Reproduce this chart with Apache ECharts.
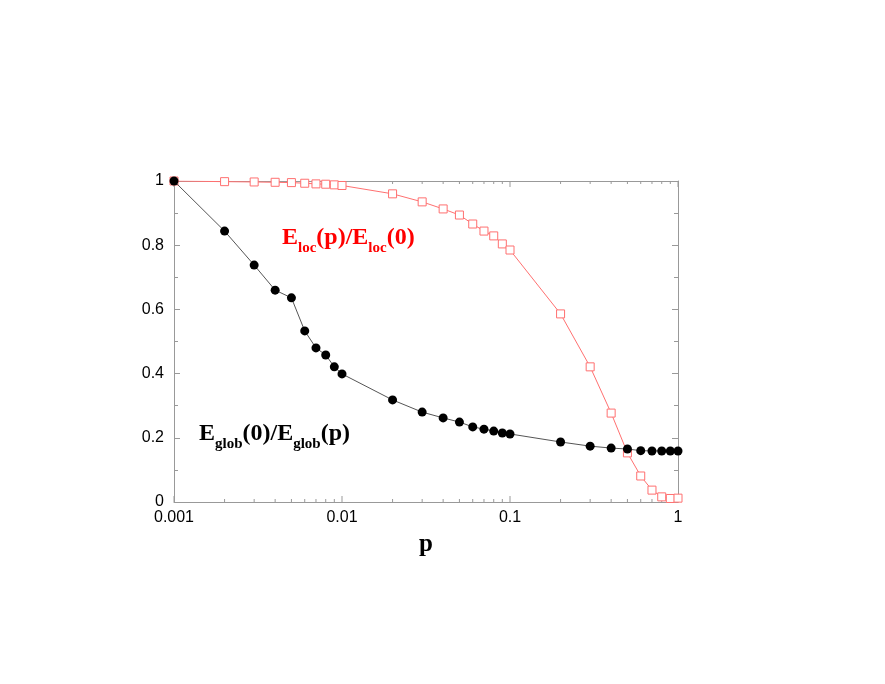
<!DOCTYPE html>
<html><head><meta charset="utf-8">
<script src="https://cdn.jsdelivr.net/npm/echarts@6/dist/echarts.min.js"></script>
<style>html,body{margin:0;padding:0;background:#fff}#c{width:885px;height:684px}</style>
</head><body><div id="c"></div>
<script>
var pValues = [0.001,0.002,0.003,0.004,0.005,0.006,0.007,0.008,0.009,0.01,0.02,0.03,0.04,0.05,0.06,0.07,0.08,0.09,0.1,0.2,0.3,0.4,0.5,0.6,0.7,0.8,0.9,1];
var eGlob = [1.0,0.844,0.738,0.660,0.636,0.533,0.480,0.458,0.421,0.399,0.318,0.280,0.262,0.249,0.234,0.227,0.221,0.215,0.212,0.187,0.174,0.168,0.165,0.160,0.159,0.159,0.159,0.159];
var eLoc = [1.0,0.998,0.997,0.996,0.995,0.993,0.991,0.990,0.988,0.986,0.960,0.935,0.913,0.894,0.866,0.844,0.829,0.804,0.785,0.586,0.421,0.277,0.153,0.081,0.037,0.016,0.011,0.012];
var majorTicksX = [0.001,0.01,0.1,1];
var minorTicksX = [0.002,0.003,0.004,0.005,0.006,0.007,0.008,0.009,0.02,0.03,0.04,0.05,0.06,0.07,0.08,0.09,0.2,0.3,0.4,0.5,0.6,0.7,0.8,0.9];
var xLabels = {0.001:'0.001',0.01:'0.01',0.1:'0.1',1:'1'};

var axisColor = '#999';
var chart = echarts.init(document.getElementById('c'));
function zip(a,b){return a.map(function(v,i){return [v,b[i]];});}
function tickItem(len){
  return function(params, api){
    var x = api.value(0);
    var b = api.coord([x,0]);
    var t = api.coord([x,1]);
    return {type:'group',children:[
      {type:'line',shape:{x1:b[0],y1:b[1],x2:b[0],y2:b[1]-len},style:{stroke:axisColor,lineWidth:1}},
      {type:'line',shape:{x1:t[0],y1:t[1],x2:t[0],y2:t[1]+len},style:{stroke:axisColor,lineWidth:1}}
    ]};
  };
}
var subA = function(c){return {fontFamily:'Liberation Serif',fontWeight:'bold',fontSize:24,fill:c,lineHeight:30,verticalAlign:'top'};};
var subB = function(c){return {fontFamily:'Liberation Serif',fontWeight:'bold',fontSize:15,fill:c,lineHeight:30,verticalAlign:'bottom',padding:[14,0,0,0]};};
chart.setOption({
  animation:false,
  grid:{left:174,right:207,top:181,bottom:182,containLabel:false},
  xAxis:[{
    type:'log',min:0.001,max:1,logBase:10,
    axisLine:{onZero:false,lineStyle:{color:axisColor,width:1}},
    axisTick:{show:false},
    splitLine:{show:false},
    axisLabel:{color:'#000',fontSize:16,fontFamily:'Liberation Sans, Arial',margin:8,formatter:function(v){return xLabels[v]||String(v);}},
    name:'p',nameLocation:'middle',nameGap:30,
    nameTextStyle:{fontFamily:'Liberation Serif',fontWeight:'bold',fontSize:25,color:'#000'}
  },{
    type:'log',min:0.001,max:1,position:'top',
    axisLine:{show:true,onZero:false,lineStyle:{color:axisColor,width:1}},
    axisTick:{show:false},axisLabel:{show:false},splitLine:{show:false}
  }],
  yAxis:[{
    type:'value',min:0,max:1,interval:0.2,
    axisLine:{show:true,onZero:false,lineStyle:{color:axisColor,width:1}},
    axisTick:{show:true,inside:true,length:6,lineStyle:{color:axisColor}},
    minorTick:{show:true,splitNumber:2,length:4,lineStyle:{color:axisColor}},
    splitLine:{show:false},
    axisLabel:{color:'#000',fontSize:16,fontFamily:'Liberation Sans, Arial',margin:10,formatter:function(v){return String(Math.round(v*10)/10);}}
  },{
    type:'value',min:0,max:1,interval:0.2,position:'right',
    axisLine:{show:true,onZero:false,lineStyle:{color:axisColor,width:1}},
    axisTick:{show:true,inside:true,length:6,lineStyle:{color:axisColor}},
    minorTick:{show:true,splitNumber:2,length:4,lineStyle:{color:axisColor}},
    splitLine:{show:false},axisLabel:{show:false}
  }],
  series:[
    {type:'custom',renderItem:tickItem(3),data:minorTicksX.map(function(v){return [v];}),encode:{x:0},silent:true,z:1},
    {type:'custom',renderItem:tickItem(6),data:majorTicksX.map(function(v){return [v];}),encode:{x:0},silent:true,z:1},
    {name:'loc',type:'line',data:zip(pValues,eLoc),symbol:'rect',symbolSize:8,
     lineStyle:{color:'#ff7070',width:1},itemStyle:{color:'#fff',borderColor:'#ff7070',borderWidth:1},z:3},
    {name:'glob',type:'line',data:zip(pValues,eGlob),symbol:'circle',symbolSize:9,
     lineStyle:{color:'#555',width:1},itemStyle:{color:'#000',borderColor:'#000',borderWidth:0},z:4}
  ],
  graphic:[
    {type:'text',left:282,top:226,style:{
      text:'{a|E}{b|loc}{a|(p)/E}{b|loc}{a|(0)}',
      rich:{a:subA('#f00'),b:subB('#f00')}
    }},
    {type:'text',left:199,top:422,style:{
      text:'{a|E}{b|glob}{a|(0)/E}{b|glob}{a|(p)}',
      rich:{a:subA('#000'),b:subB('#000')}
    }}
  ]
});
</script></body></html>
